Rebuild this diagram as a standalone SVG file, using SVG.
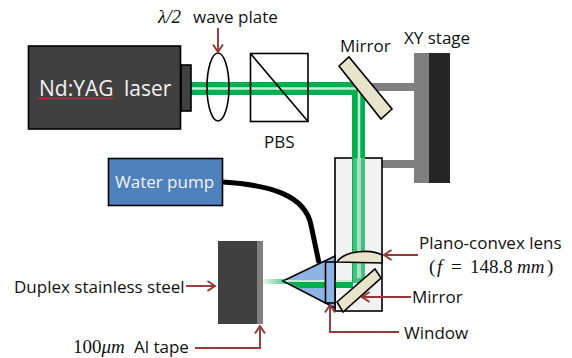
<svg xmlns="http://www.w3.org/2000/svg" width="572" height="358" viewBox="0 0 572 358">
<defs>
<marker id="a" viewBox="0 0 12 12" refX="10.5" refY="6" markerWidth="12" markerHeight="12" markerUnits="userSpaceOnUse" orient="auto"><path d="M3,1 L10.5,6 L3,11" fill="none" stroke="#953735" stroke-width="1.9"/></marker>
<linearGradient id="fade" x1="0" x2="1" y1="0" y2="0"><stop offset="0" stop-color="#e4f5ea"/><stop offset="1" stop-color="#4cc489"/></linearGradient>
</defs>
<style>
text{font-family:"Open Sans","Noto Sans","Liberation Sans",sans-serif;font-size:17px;fill:#111}
.m{font-family:"Liberation Serif","DejaVu Serif",serif;font-size:19px}
.k{stroke:#000;stroke-width:1.6}
.b{stroke:#000;stroke-width:1.6;fill:#e8e3cb}
.r{fill:none;stroke:#953735;stroke-width:1.9;marker-end:url(#a)}
.g{fill:#7f7f7f}
</style>
<rect width="572" height="358" fill="#fff"/>
<g id="xy-stage"><rect class="g" x="382" y="160" width="33" height="8"/><rect class="g" x="372" y="83" width="43" height="8"/><rect class="g" x="414" y="53" width="15" height="130"/><rect x="429" y="53" width="21" height="130" fill="#262626"/><text x="404" y="44">XY stage</text></g>
<g id="optic-box"><rect x="335" y="158" width="47" height="153" fill="#f2f2f2" class="k"/></g>
<g id="beam">
<path d="M191,82H365V280H352V95H191Z" fill="#00b050"/>
<path d="M191,88.500H359V158" fill="none" stroke="#c8ecd6" stroke-width="2.500"/>
<rect x="353" y="158" width="12" height="125" fill="#45bf80"/><rect x="357" y="158" width="4" height="120" fill="#a8e0c0"/>
</g>
<g id="laser"><rect x="181" y="65" width="10" height="46" fill="#404040" class="k"/><rect x="28.500" y="46" width="152" height="83" fill="#404040" class="k"/><text x="39" y="96" style="font-size:21px;fill:#f2f2f2">Nd:YAG</text><text x="124" y="96" style="font-size:21px;fill:#f2f2f2">laser</text><path d="M38,99 l2,-1 2,1 2,-1 2,1 2,-1 2,1 2,-1 2,1 2,-1 2,1 2,-1 2,1 2,-1 2,1 2,-1 2,1 2,-1 2,1 2,-1 2,1 2,-1 2,1 2,-1 2,1 2,-1 2,1 2,-1 2,1 2,-1 2,1 2,-1 2,1 2,-1 2,1 2,-1 2,1 2,-1 2,1" fill="none" stroke="#c33" stroke-width="1"/></g>
<g id="wave-plate"><ellipse cx="218" cy="87" rx="11" ry="34" fill="none" class="k"/><text x="158" y="23" class="m" font-style="italic">λ/2</text><text x="193" y="23">wave plate</text></g>
<g id="pbs"><rect x="250.500" y="53.500" width="57.500" height="68" fill="none" class="k"/><path d="M250.500,53.500L308,121.500" class="k"/><text x="264" y="148">PBS</text></g>
<g id="mirror-top"><polygon points="339,66 349,57 392,109 381,119" class="b"/><text x="340" y="52">Mirror</text></g>
<g id="pump"><rect x="108.500" y="158.500" width="114" height="47" fill="#4f81bd" class="k"/><text x="115" y="188" style="fill:#f2f2f2;font-size:17px">Water pump</text></g>
<g id="sample"><rect x="218" y="241" width="40" height="83" fill="#404040"/><rect class="g" x="257" y="241" width="6" height="83"/></g>
<g id="cell">
<rect x="263" y="279" width="25" height="5" fill="url(#fade)"/>
<polygon points="283,281 335,256 335,308" fill="#8eb4e3" stroke="#000" stroke-width="1.6"/>
<path d="M283,280H353V288H300Z" fill="#00b050"/><path d="M286,281H352" stroke="#c8ecd6" stroke-width="1.800"/>
<rect x="325.500" y="262" width="9.500" height="41" fill="#8eb4e3" class="k"/>
<path d="M337,262C345,250 372,249 382,255V263Z" class="b"/>
<polygon points="337,302 375,269 381,278 343,312" class="b"/>
</g>
<g id="connectors">
<path d="M223,182C270,185 305,195 311,225L319,263" fill="none" stroke="#000" stroke-width="5"/>
<path class="r" d="M218,28V52"/>
<path class="r" d="M186,286H215"/>
<path class="r" d="M195,348H260V326"/>
<path class="r" d="M418,255H384"/>
<path class="r" d="M411,297H362"/>
<path class="r" d="M399,332H330V305"/>
</g>
<g id="labels">
<text x="14" y="293">Duplex stainless steel</text>
<text x="73" y="353" class="m">100<tspan font-style="italic">μm</tspan></text><text x="134" y="353">Al tape</text>
<text x="419" y="249">Plano-convex lens</text>
<text y="273" class="m"><tspan x="429">(</tspan><tspan x="437" font-style="italic">f</tspan><tspan x="451">=</tspan><tspan x="470">148.8</tspan><tspan x="517" font-style="italic">mm</tspan><tspan x="547">)</tspan></text>
<text x="412" y="303">Mirror</text>
<text x="404" y="339">Window</text>
</g>
</svg>
